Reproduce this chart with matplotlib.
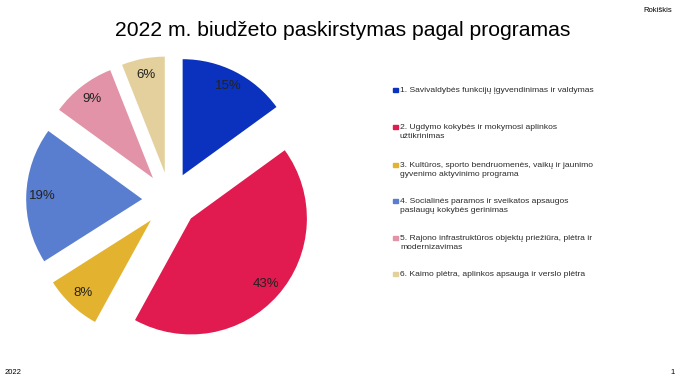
import matplotlib
matplotlib.use("Agg")
import matplotlib.pyplot as plt

plt.rcParams["font.family"] = ["Liberation Sans", "DejaVu Sans"]

title = "2022 m. biudžeto paskirstymas pagal programas"
shares = [15, 43, 8, 19, 9, 6]
programs = [
    "1. Savivaldybės funkcijų įgyvendinimas ir valdymas",
    "2. Ugdymo kokybės ir mokymosi aplinkos\nužtikrinimas",
    "3. Kultūros, sporto bendruomenės, vaikų ir jaunimo\ngyvenimo aktyvinimo programa",
    "4. Socialinės paramos ir sveikatos apsaugos\npaslaugų kokybės gerinimas",
    "5. Rajono infrastruktūros objektų priežiūra, plėtra ir\nmodernizavimas",
    "6. Kaimo plėtra, aplinkos apsauga ir verslo plėtra",
]
colors = ["#0a32bf", "#e11a4f", "#e3b22f", "#5a7ecf", "#e293a7", "#e3d09c"]

W, H = 681, 383
fig = plt.figure(figsize=(W / 100, H / 100), dpi=100)

# pie centre (170, 200) px from top-left, radius ~116 px
r_px = 116
lim = 1.45
side = 2 * lim * r_px
cx, cy = 170, H - 200
ax = fig.add_axes([(cx - side / 2) / W, (cy - side / 2) / H, side / W, side / H])
wedges, texts, autotexts = ax.pie(
    shares,
    colors=colors,
    startangle=90,
    counterclock=False,
    explode=[0.24] * len(shares),
    autopct="%.0f%%",
    pctdistance=0.86,
    textprops={"fontsize": 9.5, "color": "#222222"},
)
ax.set_xlim(-lim, lim)
ax.set_ylim(-lim, lim)
ax.set_aspect("equal")
ax.axis("off")

fig.text(343 / W, 1 - 30 / H, title, ha="center", va="center", fontsize=15.2)
fig.text(672 / W, 1 - 10 / H, "Rokiškis", ha="right", va="center", fontsize=5.5)
fig.text(5 / W, 1 - 373 / H, "2022", ha="left", va="center", fontsize=5.5)
fig.text(675 / W, 1 - 373 / H, "1", ha="right", va="center", fontsize=5.5)

# legend drawn by hand, one entry per programme
first_line_y = [90, 127, 165, 201, 238, 274]
for txt, col, y in zip(programs, colors, first_line_y):
    fig.patches.append(
        plt.Rectangle((393 / W, 1 - (y + 2) / H), 4.5 / W, 4.5 / H,
                      transform=fig.transFigure, color=col, figure=fig)
    )
    fig.text(400 / W, 1 - (y - 3) / H, txt, ha="left", va="top",
             fontsize=6.1, color="#2a2a2a", linespacing=1.45)

fig.savefig("out.png", dpi=100)
